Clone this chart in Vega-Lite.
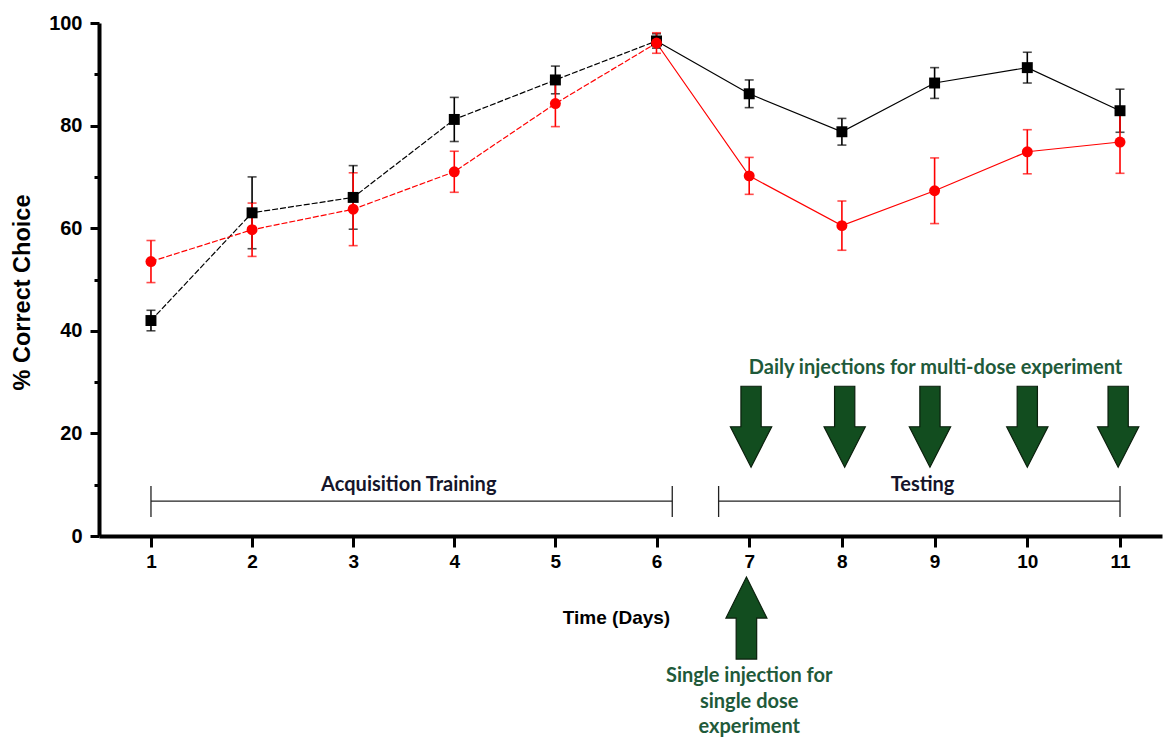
{
  "$schema": "https://vega.github.io/schema/vega-lite/v6.json",
  "width": 1063,
  "height": 513,
  "autosize": {"type": "none"},
  "padding": {"left": 99, "top": 23, "right": 4, "bottom": 202},
  "background": "white",
  "config": {"view": {"stroke": null}, "axis": {"grid": false}},
  "datasets": {
    "points": [
      {"day": 1, "series": "black", "value": 42.0, "err": 2.0},
      {"day": 2, "series": "black", "value": 63.0, "err": 7.0},
      {"day": 3, "series": "black", "value": 66.0, "err": 6.2},
      {"day": 4, "series": "black", "value": 81.2, "err": 4.3},
      {"day": 5, "series": "black", "value": 88.9, "err": 2.7},
      {"day": 6, "series": "black", "value": 96.5, "err": 1.4},
      {"day": 7, "series": "black", "value": 86.2, "err": 2.7},
      {"day": 8, "series": "black", "value": 78.8, "err": 2.6},
      {"day": 9, "series": "black", "value": 88.3, "err": 3.0},
      {"day": 10, "series": "black", "value": 91.3, "err": 3.0},
      {"day": 11, "series": "black", "value": 82.9, "err": 4.2},
      {"day": 1, "series": "red", "value": 53.5, "err": 4.1},
      {"day": 2, "series": "red", "value": 59.7, "err": 5.2},
      {"day": 3, "series": "red", "value": 63.7, "err": 7.1},
      {"day": 4, "series": "red", "value": 71.0, "err": 4.0},
      {"day": 5, "series": "red", "value": 84.3, "err": 4.5},
      {"day": 6, "series": "red", "value": 96.1, "err": 2.0},
      {"day": 7, "series": "red", "value": 70.2, "err": 3.6},
      {"day": 8, "series": "red", "value": 60.5, "err": 4.8},
      {"day": 9, "series": "red", "value": 67.3, "err": 6.4},
      {"day": 10, "series": "red", "value": 74.9, "err": 4.3},
      {"day": 11, "series": "red", "value": 76.8, "err": 6.1}
    ],
    "brackets": [
      {"day": 1, "day2": 6.17, "value": 6.8},
      {"day": 6.67, "day2": 11, "value": 6.8}
    ],
    "bracketEnds": [
      {"day": 1, "value": 3.7, "value2": 9.75},
      {"day": 6.17, "value": 3.7, "value2": 9.75},
      {"day": 6.67, "value": 3.7, "value2": 9.75},
      {"day": 11, "value": 3.7, "value2": 9.75}
    ],
    "phaseLabels": [
      {"day": 3.55, "value": 9.9, "label": "Acquisition Training"},
      {"day": 8.87, "value": 9.9, "label": "Testing"}
    ],
    "downArrows": [
      {"day": 7.02, "value": 21.3},
      {"day": 8.03, "value": 21.3},
      {"day": 8.95, "value": 21.3},
      {"day": 10.0, "value": 21.3},
      {"day": 10.98, "value": 21.3}
    ],
    "upArrow": [
      {"day": 6.97, "value": -16.0}
    ],
    "greenText": [
      {"day": 9.01, "value": 32.7, "label": "Daily injections for multi-dose experiment"},
      {"day": 7.0, "value": -27.3, "label": "Single injection for\nsingle dose\nexperiment"}
    ]
  },
  "encoding": {
    "x": {
      "field": "day",
      "type": "quantitative",
      "scale": {"domain": [0.486, 6, 11.453], "range": [0, 557.5, 1063], "nice": false, "zero": false},
      "axis": {
        "title": "Time (Days)",
        "values": [1, 2, 3, 4, 5, 6, 7, 8, 9, 10, 11],
        "domainColor": "#000000",
        "domainWidth": 4,
        "tickColor": "#000000",
        "tickWidth": 3,
        "tickSize": 11,
        "labelFont": "Liberation Sans",
        "labelFontWeight": "bold",
        "labelFontSize": 19,
        "labelColor": "#000000",
        "labelPadding": 5,
        "labelFlush": false,
        "labelOverlap": false,
        "titleFont": "Liberation Sans",
        "titleFontWeight": "bold",
        "titleFontSize": 19,
        "titleColor": "#000000",
        "titleX": 517,
        "titleY": 81,
        "titleAlign": "center",
        "titleBaseline": "middle"
      }
    },
    "y": {
      "field": "value",
      "type": "quantitative",
      "scale": {"domain": [0, 100], "nice": false, "zero": false},
      "axis": {
        "title": "% Correct Choice",
        "values": [0, 10, 20, 30, 40, 50, 60, 70, 80, 90, 100],
        "labelExpr": "datum.value % 20 === 0 ? datum.label : ''",
        "domainColor": "#000000",
        "domainWidth": 4,
        "tickColor": "#000000",
        "tickWidth": 3,
        "tickSize": {"condition": {"test": "datum.value % 20 === 0", "value": 9}, "value": 5},
        "labelFont": "Liberation Sans",
        "labelFontWeight": "bold",
        "labelFontSize": 20,
        "labelColor": "#000000",
        "labelPadding": 8,
        "labelFlush": false,
        "labelOverlap": false,
        "titleFont": "Liberation Sans",
        "titleFontWeight": "bold",
        "titleFontSize": 23.5,
        "titleColor": "#000000",
        "titleAngle": -90,
        "titleX": -77,
        "titleY": 269,
        "titleAlign": "center",
        "titleBaseline": "middle"
      }
    }
  },
  "layer": [
    {
      "data": {"name": "points"},
      "transform": [{"filter": "datum.day <= 6"}],
      "mark": {"type": "line", "strokeWidth": 1.2, "strokeDash": [6, 2]},
      "encoding": {
        "color": {"field": "series", "type": "nominal", "scale": {"domain": ["black", "red"], "range": ["#000000", "#ff0000"]}, "legend": null}
      }
    },
    {
      "data": {"name": "points"},
      "transform": [{"filter": "datum.day >= 6"}],
      "mark": {"type": "line", "strokeWidth": 1.2},
      "encoding": {
        "color": {"field": "series", "type": "nominal", "scale": {"domain": ["black", "red"], "range": ["#000000", "#ff0000"]}, "legend": null}
      }
    },
    {
      "data": {"name": "points"},
      "mark": {"type": "errorbar", "ticks": {"size": 9, "thickness": 1.6}, "thickness": 1.6},
      "encoding": {
        "yError": {"field": "err"},
        "color": {"field": "series", "type": "nominal", "scale": {"domain": ["black", "red"], "range": ["#000000", "#ff0000"]}, "legend": null}
      }
    },
    {
      "data": {"name": "points"},
      "mark": {"type": "point", "filled": true, "opacity": 1, "size": 120},
      "encoding": {
        "color": {"field": "series", "type": "nominal", "scale": {"domain": ["black", "red"], "range": ["#000000", "#ff0000"]}, "legend": null},
        "shape": {"field": "series", "type": "nominal", "scale": {"domain": ["black", "red"], "range": ["square", "circle"]}, "legend": null}
      }
    },
    {
      "data": {"name": "brackets"},
      "mark": {"type": "rule", "color": "#222222", "strokeWidth": 1.3},
      "encoding": {"x2": {"field": "day2"}}
    },
    {
      "data": {"name": "bracketEnds"},
      "mark": {"type": "rule", "color": "#222222", "strokeWidth": 1.3},
      "encoding": {"y2": {"field": "value2"}}
    },
    {
      "data": {"name": "phaseLabels"},
      "mark": {"type": "text", "font": "Lato", "fontWeight": "bold", "fontSize": 20, "color": "#15152a", "align": "center", "baseline": "middle"},
      "encoding": {"text": {"field": "label"}}
    },
    {
      "data": {"name": "downArrows"},
      "mark": {"type": "point", "shape": "M-0.25,-1L0.25,-1L0.25,0L0.51,0L0,1L-0.51,0L-0.25,0Z", "size": 6561, "filled": true, "fill": "#124d1f", "stroke": "#0a1f0c", "strokeWidth": 1.2, "opacity": 1}
    },
    {
      "data": {"name": "upArrow"},
      "mark": {"type": "point", "shape": "M0,-1L0.5,0L0.25,0L0.25,1L-0.25,1L-0.25,0L-0.5,0Z", "size": 6724, "filled": true, "fill": "#124d1f", "stroke": "#0a1f0c", "strokeWidth": 1.2, "opacity": 1}
    },
    {
      "data": {"name": "greenText"},
      "mark": {"type": "text", "font": "Lato", "fontWeight": "bold", "fontSize": 20, "color": "#1f5a3a", "align": "center", "baseline": "middle", "lineBreak": "\n", "lineHeight": 25.5},
      "encoding": {"text": {"field": "label"}}
    }
  ]
}
